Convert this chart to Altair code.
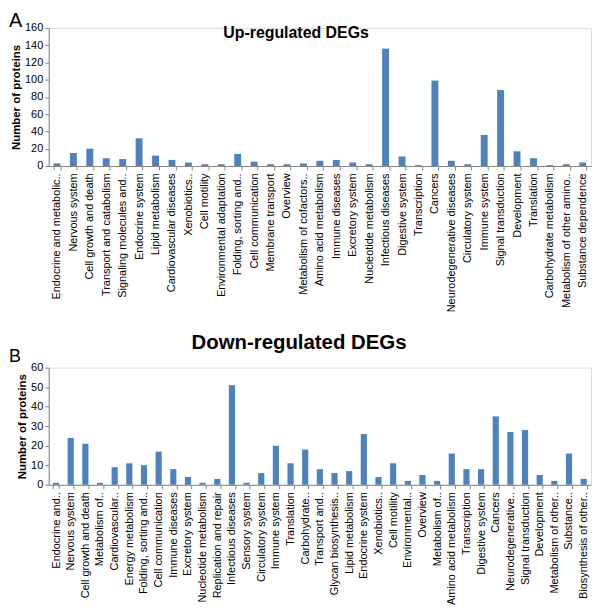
import json
import altair as alt
import pandas as pd

up_categories = [
    "Endocrine and metabolic..", "Nervous system", "Cell growth and death",
    "Transport and catabolism", "Signaling molecules and..", "Endocrine system",
    "Lipid metabolism", "Cardiovascular diseases", "Xenobiotics..", "Cell motility",
    "Environmental adaptation", "Folding, sorting and..", "Cell communication",
    "Membrane transport", "Overview", "Metabolism of cofactors..",
    "Amino acid metabolism", "Immune diseases", "Excretory system",
    "Nucleotide metabolism", "Infectious diseases", "Digestive system",
    "Transcription", "Cancers", "Neurodegenerative diseases", "Circulatory system",
    "Immune system", "Signal transduction", "Development", "Translation",
    "Carbohydrate metabolism", "Metabolism of other amino..", "Substance dependence",
]
up_values = [3, 15, 20, 9, 8, 32, 12, 7, 4, 2, 2, 14, 5, 2, 2, 3, 6, 7, 4, 2,
             136, 11, 1, 99, 6, 2, 36, 88, 17, 9, 1, 2, 4]

down_categories = [
    "Endocrine and..", "Nervous system", "Cell growth and death", "Metabolism of..",
    "Cardiovascular..", "Energy metabolism", "Folding, sorting and..",
    "Cell communication", "Immune diseases", "Excretory system",
    "Nucleotide metabolism", "Replication and repair", "Infectious diseases",
    "Sensory system", "Circulatory system", "Immune system", "Translation",
    "Carbohydrate..", "Transport and..", "Glycan biosynthesis..", "Lipid metabolism",
    "Endocrine system", "Xenobiotics..", "Cell motility", "Environmental..",
    "Overview", "Metabolism of..", "Amino acid metabolism", "Transcription",
    "Digestive system", "Cancers", "Neurodegenerative..", "Signal transduction",
    "Development", "Metabolism of other..", "Substance..", "Biosynthesis of other..",
]
down_values = [1, 24, 21, 1, 9, 11, 10, 17, 8, 4, 1, 3, 51, 1, 6, 20, 11,
               18, 8, 6, 7, 26, 4, 11, 2, 5, 2, 16, 8, 8, 35, 27, 28, 5, 2, 16, 3]

up_ticks = [0, 20, 40, 60, 80, 100, 120, 140, 160]
down_ticks = [0, 10, 20, 30, 40, 50, 60]

FONT = "Liberation Sans"
BLUE = "#4F81BD"
W = 546


def panel(cats, vals, ticks, height, title, title_size, title_dx, title_dy,
          letter, letter_size, letter_dy):
    df = pd.DataFrame({"idx": list(range(len(cats))), "cat": cats, "value": vals})
    label_expr = json.dumps(cats) + "[datum.value]"
    bars = alt.Chart(df).mark_bar(color=BLUE).encode(
        x=alt.X("idx:O", title=None,
                scale=alt.Scale(paddingInner=0.58, paddingOuter=0.29),
                axis=alt.Axis(labelExpr=label_expr, labelAngle=-90, labelFontSize=11,
                              labelFont=FONT, labelColor="#000", labelLimit=300,
                              tickBand="extent", tickSize=4, tickColor="#868686",
                              domainColor="#868686", labelPadding=3)),
        y=alt.Y("value:Q", title="Number of proteins",
                scale=alt.Scale(domain=[ticks[0], ticks[-1]], nice=False),
                axis=alt.Axis(values=ticks, grid=False, labelFont=FONT, labelFontSize=11,
                              labelColor="#000", tickColor="#868686", tickSize=4,
                              domainColor="#868686", titleFont=FONT, titleFontSize=11.5,
                              titleFontWeight="bold", titleColor="#000", titlePadding=3,
                              labelPadding=2)),
    )
    t = alt.Chart(pd.DataFrame({"t": [title]})).mark_text(
        font=FONT, fontSize=title_size, fontWeight="bold", color="#000",
        align="center", baseline="middle"
    ).encode(text="t:N", x=alt.value(title_dx), y=alt.value(title_dy))
    lt = alt.Chart(pd.DataFrame({"t": [letter]})).mark_text(
        font=FONT, fontSize=letter_size, color="#000", align="left", baseline="alphabetic"
    ).encode(text="t:N", x=alt.value(-40), y=alt.value(letter_dy))
    return alt.layer(bars, t, lt).properties(width=W, height=height)


top = panel(up_categories, up_values, up_ticks, 139, "Up-regulated DEGs", 16, 249, 5,
            "A", 20, -1)
bottom = panel(down_categories, down_values, down_ticks, 118, "Down-regulated DEGs", 20.5,
               252, -25, "B", 18, -6)

chart = alt.vconcat(top, bottom, spacing=19).properties(
    padding={"left": 0, "top": 0, "right": 0, "bottom": 0}
).configure_view(stroke=None).configure(background="white")

chart.save("out.html", embed_options={"renderer": "svg", "actions": False})
